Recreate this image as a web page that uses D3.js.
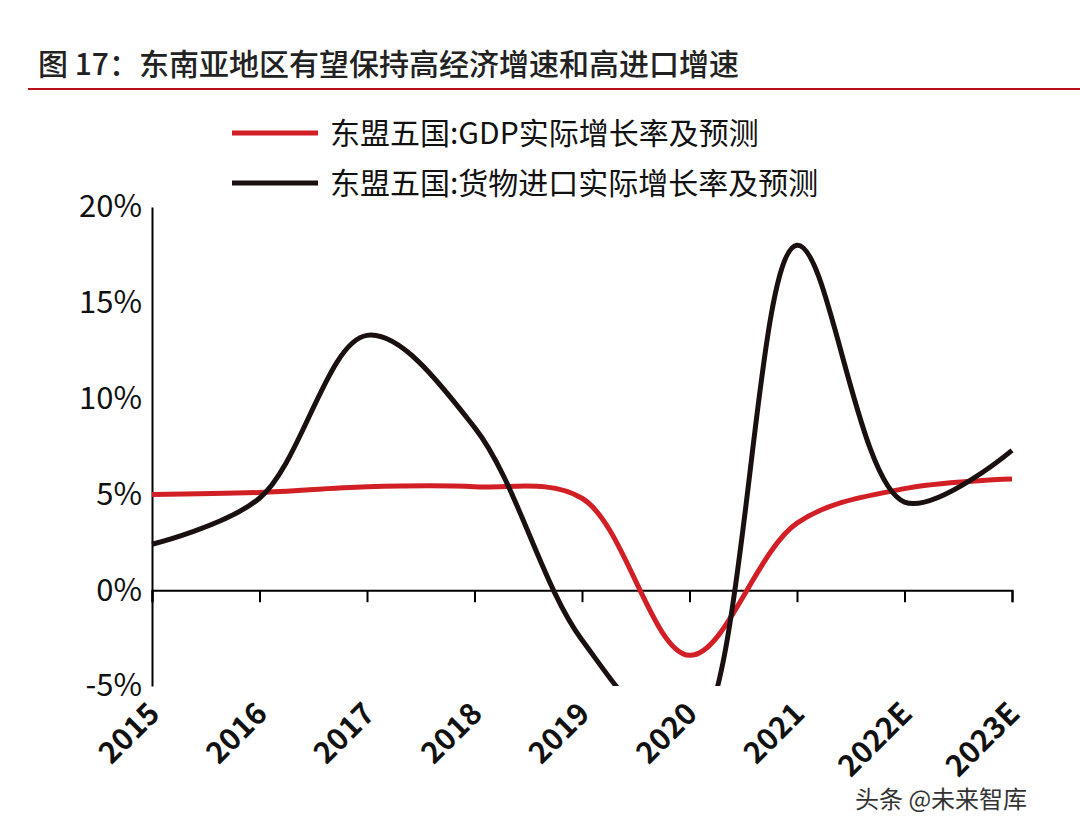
<!DOCTYPE html>
<html><head><meta charset="utf-8">
<script src="https://cdn.jsdelivr.net/npm/d3@7"></script>
<style>body{margin:0;background:#fff}text{font-family:"Noto Sans CJK SC","Liberation Sans",Arial,sans-serif}</style>
</head><body><svg id="c" width="1080" height="836"></svg>
<script>
const categories=["2015","2016","2017","2018","2019","2020","2021","2022E","2023E"];
const gdp=[5.0,5.1,5.4,5.4,4.8,-3.4,3.5,5.3,5.8];
const imports=[2.4,4.8,13.3,8.5,-2.6,-8.0,18.0,4.6,7.3];
const yTicks=[-5,0,5,10,15,20];
const seriesNames=["东盟五国:GDP实际增长率及预测","东盟五国:货物进口实际增长率及预测"];
const colors=["#d21f26","#1a1010"];

const svg=d3.select("#c");
svg.append("text").attr("x",38).attr("y",75).attr("font-size",30).attr("font-weight",500).attr("fill","#222").text("图 17：东南亚地区有望保持高经济增速和高进口增速");
svg.append("line").attr("x1",28).attr("x2",1080).attr("y1",89).attr("y2",89).attr("stroke","#b5121b").attr("stroke-width",2);

const x=d3.scalePoint().domain(categories).range([152,1012]);
const y=d3.scaleLinear().domain([-5,20]).range([686,207]);

svg.append("defs").append("clipPath").attr("id","clip").append("rect").attr("x",140).attr("y",200).attr("width",900).attr("height",486);

const gy=svg.append("g").attr("transform","translate(152,0)").call(d3.axisLeft(y).tickValues(yTicks).tickFormat(d=>d+"%").tickSize(0).tickPadding(10));
gy.select(".domain").attr("stroke","#000").attr("stroke-width",2);
gy.selectAll("text").attr("font-size",31).attr("fill","#111").attr("font-family","Liberation Sans, Arial");

const gx=svg.append("g").attr("transform",`translate(0,${y(0)})`).call(d3.axisBottom(x).tickSize(12).tickFormat(""));
gx.select(".domain").attr("stroke","#000").attr("stroke-width",2);
gx.selectAll("line").attr("stroke","#000").attr("stroke-width",2);

svg.append("g").selectAll("text").data(categories).join("text")
 .attr("transform",d=>`translate(${x(d)+2},${708}) rotate(-45)`).attr("text-anchor","end").attr("dy","0.35em")
 .attr("font-size",30).attr("font-weight","bold").attr("fill","#111").attr("font-family","Liberation Sans, Arial").text(d=>d);

const line=d3.line().x((d,i)=>x(categories[i])).y(d=>y(d)).curve(d3.curveCatmullRom.alpha(0.5));
const g=svg.append("g").attr("clip-path","url(#clip)");
[gdp,imports].forEach((s,i)=>g.append("path").attr("d",line(s)).attr("fill","none").attr("stroke",colors[i]).attr("stroke-width",5));

seriesNames.forEach((n,i)=>{
 const yy=133+i*50;
 svg.append("line").attr("x1",232).attr("x2",318).attr("y1",yy).attr("y2",yy).attr("stroke",colors[i]).attr("stroke-width",5);
 svg.append("text").attr("x",330).attr("y",yy+11).attr("font-size",30).attr("fill","#111").text(n);
});
svg.append("text").attr("x",855).attr("y",808).attr("font-size",24).attr("fill","#333").text("头条 @未来智库");
</script></body></html>
